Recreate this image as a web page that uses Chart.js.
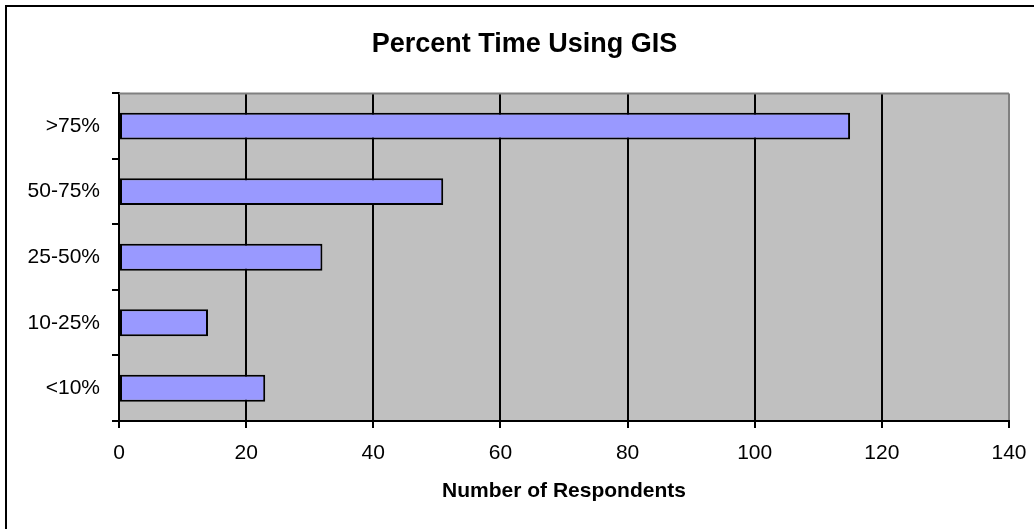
<!DOCTYPE html>
<html>
<head>
<meta charset="utf-8">
<script src="https://cdn.jsdelivr.net/npm/chart.js@4"></script>
<style>
  html, body { margin: 0; padding: 0; background: #fff; }
  #wrap { width: 1034px; height: 529px; position: relative; }
</style>
</head>
<body>
<div id="wrap"><canvas id="chart"></canvas></div>
<script>
const categories = ['>75%', '50-75%', '25-50%', '10-25%', '<10%'];
const respondents = [115, 51, 32, 14, 23];
const xMax = 140;
const xStep = 20;

const FONT = '"Liberation Sans", Arial, sans-serif';

// gray plot background, gray top edge, black frame round the whole chart
const plotFrame = {
  id: 'plotFrame',
  afterLayout(chart) {
    // the title sits a little right of the canvas centre in the original
    if (chart.titleBlock) {
      chart.titleBlock.left = 15;
      chart.titleBlock.right = 1034;
    }
  },
  beforeDraw(chart) {
    const { ctx, chartArea: a } = chart;
    ctx.save();
    ctx.fillStyle = '#C0C0C0';
    ctx.fillRect(a.left, a.top, a.right - a.left, a.bottom - a.top);
    ctx.strokeStyle = '#000';
    ctx.lineWidth = 2;
    ctx.strokeRect(6, 6, 1200, 1200);
    ctx.restore();
  },
  afterDraw(chart) {
    const { ctx, chartArea: a } = chart;
    ctx.save();
    ctx.strokeStyle = '#808080';
    ctx.lineWidth = 2;
    ctx.beginPath();
    ctx.moveTo(a.left, a.top);
    ctx.lineTo(a.right, a.top);
    ctx.stroke();
    ctx.restore();
  }
};

new Chart(document.getElementById('chart'), {
  type: 'bar',
  data: {
    labels: categories,
    datasets: [{
      label: 'Number of Respondents',
      data: respondents,
      backgroundColor: '#9999FF',
      borderColor: '#000',
      borderWidth: 2,
      borderSkipped: false,
      categoryPercentage: 1,
      barPercentage: 0.41
    }]
  },
  options: {
    indexAxis: 'y',
    responsive: true,
    maintainAspectRatio: false,
    animation: false,
    layout: { padding: { left: 0, right: 25, top: 0, bottom: 0 } },
    plugins: {
      legend: { display: false },
      tooltip: { enabled: false },
      title: {
        display: true,
        text: 'Percent Time Using GIS',
        color: '#000',
        font: { family: FONT, size: 27, weight: 'bold' },
        padding: { top: 28, bottom: 33 }
      }
    },
    scales: {
      x: {
        min: 0,
        max: xMax,
        ticks: {
          stepSize: xStep,
          color: '#000',
          padding: 13,
          font: { family: FONT, size: 21 }
        },
        grid: {
          color: ctx => ctx.tick && ctx.tick.value === xMax ? '#808080' : '#000',
          lineWidth: 2,
          tickLength: 7,
          tickColor: '#000'
        },
        border: { color: '#000', width: 2 },
        title: {
          display: true,
          text: 'Number of Respondents',
          color: '#000',
          font: { family: FONT, size: 21, weight: 'bold' },
          padding: { top: 0, bottom: 25 }
        },
        afterFit: scale => {
          scale.height = 108;
          scale.paddingRight = 0;
        }
      },
      y: {
        ticks: {
          color: '#000',
          padding: 12,
          font: { family: FONT, size: 21 }
        },
        grid: {
          offset: true,
          drawOnChartArea: false,
          tickLength: 7,
          tickColor: '#000',
          lineWidth: 2
        },
        border: { color: '#000', width: 2 },
        afterFit: scale => { scale.width = 119; }
      }
    }
  },
  plugins: [plotFrame]
});
</script>
</body>
</html>
